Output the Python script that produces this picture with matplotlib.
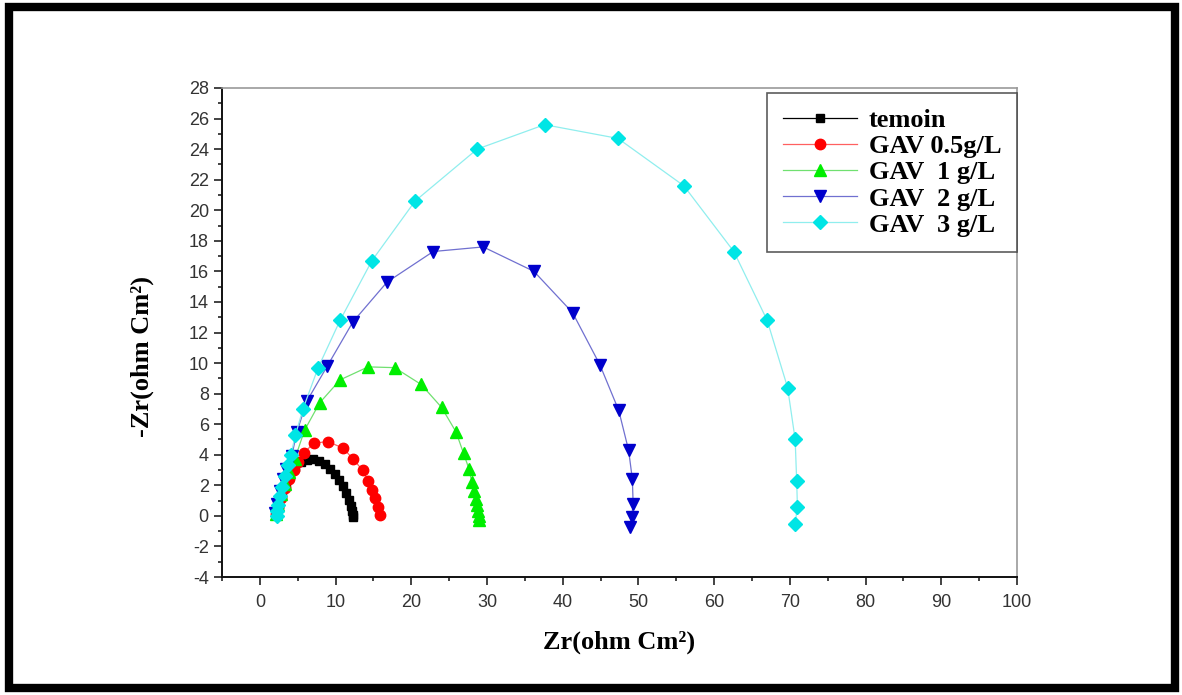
import matplotlib
matplotlib.use("Agg")
import matplotlib.pyplot as plt
from matplotlib.patches import Rectangle
from matplotlib.ticker import MultipleLocator

plt.rcParams["axes.unicode_minus"] = False

# Nyquist data: real part Zr and -imaginary part (ohm cm^2)
temoin_x = [2.2, 2.5, 2.9, 3.4, 4.0, 4.7, 5.4, 6.2, 7.0, 7.8, 8.6, 9.3, 9.9,
            10.5, 11.0, 11.4, 11.8, 12.0, 12.2, 12.3, 12.3]
temoin_y = [0.1, 0.7, 1.4, 2.1, 2.7, 3.2, 3.5, 3.68, 3.7, 3.6, 3.4, 3.1, 2.75,
            2.35, 1.95, 1.5, 1.05, 0.65, 0.3, 0.05, -0.1]

gav05_x = [2.1, 2.4, 2.8, 3.3, 3.9, 4.5, 5.1, 5.8, 7.1, 9.0, 11.0, 12.3, 13.6,
           14.3, 14.75, 15.2, 15.6, 15.85]
gav05_y = [0.1, 0.6, 1.2, 1.8, 2.4, 3.0, 3.5, 4.1, 4.76, 4.86, 4.43, 3.73, 2.97,
           2.25, 1.7, 1.16, 0.61, 0.07]

gav1_x = [2.1, 2.4, 2.8, 3.3, 3.9, 4.6, 5.9, 7.9, 10.6, 14.3, 17.8, 21.3, 24.0,
          25.9, 26.9, 27.6, 28.0, 28.3, 28.5, 28.7, 28.8, 28.9, 28.9]
gav1_y = [0.1, 0.7, 1.4, 2.1, 2.9, 3.7, 5.6, 7.4, 8.9, 9.75, 9.7, 8.6, 7.1,
          5.5, 4.1, 3.1, 2.2, 1.6, 1.1, 0.7, 0.3, 0.0, -0.25]

gav2_x = [2.0, 2.3, 2.6, 3.0, 3.5, 4.2, 4.9, 6.2, 8.9, 12.3, 16.8, 22.9, 29.5,
          36.2, 41.3, 44.9, 47.4, 48.7, 49.2, 49.3, 49.1, 48.9]
gav2_y = [0.2, 0.8, 1.6, 2.4, 3.1, 3.9, 5.5, 7.5, 9.8, 12.7, 15.3, 17.3, 17.6,
          16.0, 13.3, 9.9, 6.9, 4.3, 2.4, 0.8, -0.1, -0.7]

gav3_x = [2.2, 2.3, 2.4, 2.6, 2.9, 3.3, 3.7, 4.1, 4.7, 5.7, 7.7, 10.6, 14.8,
          20.5, 28.7, 37.6, 47.3, 56.0, 62.6, 67.0, 69.7, 70.7, 70.9, 71.0, 70.7]
gav3_y = [0.0, 0.3, 0.7, 1.3, 1.9, 2.6, 3.3, 4.0, 5.3, 7.0, 9.7, 12.8, 16.7,
          20.6, 24.0, 25.6, 24.7, 21.6, 17.3, 12.8, 8.4, 5.0, 2.3, 0.6, -0.5]

series = [
    ("temoin", temoin_x, temoin_y, "s", "#000000", "#000000", 6),
    ("GAV 0.5g/L", gav05_x, gav05_y, "o", "#ff0000", "#ff6060", 7.5),
    ("GAV  1 g/L", gav1_x, gav1_y, "^", "#00ee00", "#70e070", 8.5),
    ("GAV  2 g/L", gav2_x, gav2_y, "v", "#0000cc", "#7070d0", 8.5),
    ("GAV  3 g/L", gav3_x, gav3_y, "D", "#00e5e5", "#90eeee", 7.5),
]

fig = plt.figure(figsize=(11.82, 6.95), dpi=100)
ax = fig.add_axes([222 / 1182, 1 - 577 / 695, (1017 - 222) / 1182, (577 - 88) / 695])

for label, xs, ys, mk, mc, lc, ms in series:
    ax.plot(xs, ys, color=lc, linewidth=0.9, marker=mk, markersize=ms,
            markerfacecolor=mc, markeredgecolor=mc, label=label)

ax.set_xlim(-5, 100)
ax.set_ylim(-4, 28)
ax.xaxis.set_major_locator(MultipleLocator(10))
ax.xaxis.set_minor_locator(MultipleLocator(5))
ax.yaxis.set_major_locator(MultipleLocator(2))
ax.yaxis.set_minor_locator(MultipleLocator(1))
ax.tick_params(which="both", direction="out", top=False, right=False,
               labelsize=13, width=1.2, colors="#222222")
ax.tick_params(which="major", length=6)
ax.tick_params(which="minor", length=3)
ax.tick_params(axis="x", pad=6)
for lab in ax.get_xticklabels() + ax.get_yticklabels():
    lab.set_fontfamily("Liberation Sans")
    lab.set_color("#333333")

for side in ("left", "bottom"):
    ax.spines[side].set_color("#111111")
    ax.spines[side].set_linewidth(1.4)
for side in ("top", "right"):
    ax.spines[side].set_color("#999999")
    ax.spines[side].set_linewidth(1.2)

ax.set_xlabel("Zr(ohm Cm²)", fontfamily="Liberation Serif", fontweight="bold",
              fontsize=19, labelpad=14)
ax.set_ylabel("-Zr(ohm Cm²)", fontfamily="Liberation Serif", fontweight="bold",
              fontsize=19)
ax.yaxis.set_label_coords(-0.085, 0.45)

leg = ax.legend(loc="upper right", bbox_to_anchor=(1.0, 0.99), borderaxespad=0,
                prop={"family": "Liberation Serif", "weight": "bold", "size": 19},
                frameon=True, fancybox=False, handlelength=2.8,
                labelspacing=0.1, borderpad=0.6, handletextpad=0.45)
leg.get_frame().set_edgecolor("#333333")
leg.get_frame().set_linewidth(1.2)

# thick outer border
fig.patches.append(Rectangle((9 / 1182, 7 / 695), 1 - 16 / 1182, 1 - 14 / 695,
                             transform=fig.transFigure, fill=False,
                             edgecolor="black", linewidth=6))

fig.savefig("out.png", dpi=100)
